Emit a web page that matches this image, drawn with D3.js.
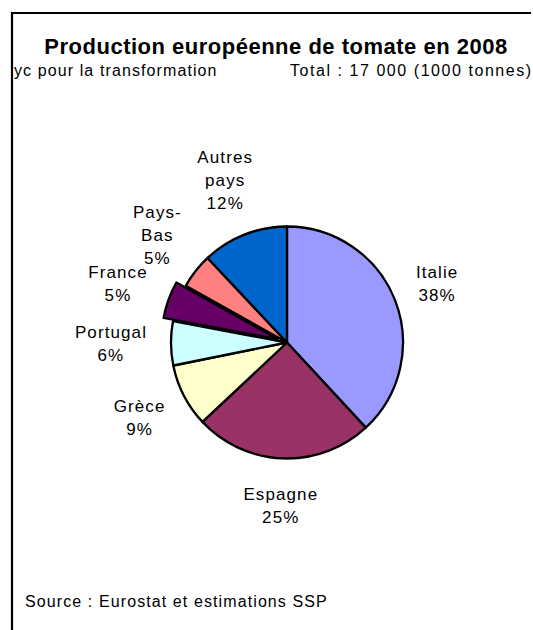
<!DOCTYPE html>
<html>
<head>
<meta charset="utf-8">
<script src="https://cdn.jsdelivr.net/npm/d3@7"></script>
<style>
  body { margin: 0; background: #fff; }
  svg { display: block; font-family: "Liberation Sans", Arial, sans-serif; }
</style>
</head>
<body>
<div id="chart"></div>
<script>
// production 2008, 1000 tonnes
const countries = ["Italie", "Espagne", "Grèce", "Portugal", "France", "Pays-Bas", "Autres pays"];
const production = [6480, 4230, 1500, 1040, 880, 830, 2040];
const sliceColors = ["#9999FF", "#993366", "#FFFFCC", "#CCFFFF", "#660066", "#FF8080", "#0066CC"];
const exploded = ["France"];

const width = 533;
const height = 630;
const cx = 287;
const cy = 342.5;
const radius = 116;
const explodeOffset = 10;
const labelGap = 24;
const lineHeight = 23;

const total = d3.sum(production);
const pct = d3.format(".0%");

const svg = d3.select("#chart")
  .append("svg")
  .attr("width", width)
  .attr("height", height);

// frame (only left and top edges are visible in the crop)
svg.append("path")
  .attr("d", `M12,${height} L12,13 L531,13`)
  .attr("fill", "none")
  .attr("stroke", "#000")
  .attr("stroke-width", 2.2);

svg.append("text")
  .attr("x", 276)
  .attr("y", 54)
  .attr("text-anchor", "middle")
  .style("font-size", "22px")
  .style("font-weight", "bold")
  .style("letter-spacing", "0.5px")
  .text("Production européenne de tomate en 2008");

svg.append("text")
  .attr("x", 14)
  .attr("y", 76)
  .style("font-size", "16px")
  .style("letter-spacing", "1.1px")
  .text("yc pour la transformation");

svg.append("text")
  .attr("x", 290)
  .attr("y", 76)
  .style("font-size", "16px")
  .style("letter-spacing", "1.55px")
  .text("Total : 17 000 (1000 tonnes)");

svg.append("text")
  .attr("x", 25)
  .attr("y", 607)
  .style("font-size", "16px")
  .style("letter-spacing", "1.1px")
  .text("Source : Eurostat et estimations SSP");

const pie = d3.pie().sort(null).value(d => d.value);
const arc = d3.arc().innerRadius(0).outerRadius(radius);

const slices = pie(countries.map((c, i) => ({ name: c, value: production[i], color: sliceColors[i] })));

const dir = d => {
  const a = (d.startAngle + d.endAngle) / 2;
  return [Math.sin(a), -Math.cos(a)];
};
const shift = d => exploded.includes(d.data.name) ? explodeOffset : 0;

const g = svg.append("g").attr("transform", `translate(${cx},${cy})`);

g.selectAll("path.slice")
  .data(slices)
  .enter()
  .append("path")
  .attr("class", "slice")
  .attr("d", arc)
  .attr("transform", d => {
    const [ux, uy] = dir(d);
    return `translate(${ux * shift(d)},${uy * shift(d)})`;
  })
  .attr("fill", d => d.data.color)
  .attr("stroke", "#000")
  .attr("stroke-width", 2.3)
  .attr("stroke-linejoin", "round");

// labels: name split on space / hyphen, then the share
const labelLines = d => {
  const parts = d.data.name.replace("-", "-\n").replace(" ", "\n").split("\n");
  return parts.concat(pct(d.data.value / total));
};

const labels = g.selectAll("text.lbl")
  .data(slices)
  .enter()
  .append("text")
  .attr("class", "lbl")
  .attr("text-anchor", "middle")
  .style("font-size", "17px")
  .style("letter-spacing", "1.1px");

labels.each(function(d) {
  const lines = labelLines(d);
  const t = d3.select(this);
  lines.forEach(l => t.append("tspan").text(l));
  // measure box, push it outward so its edge sits beyond the rim
  const w = d3.max(t.selectAll("tspan").nodes(), n => n.getComputedTextLength());
  const h = lines.length * lineHeight;
  const [ux, uy] = dir(d);
  const r = radius + labelGap + shift(d);
  const bx = ux * r + ux * w / 2;
  const by = uy * r + uy * h / 2;
  t.selectAll("tspan")
    .attr("x", bx)
    .attr("y", (l, i) => by - h / 2 + lineHeight * (i + 0.5) + 6);
});
</script>
</body>
</html>
